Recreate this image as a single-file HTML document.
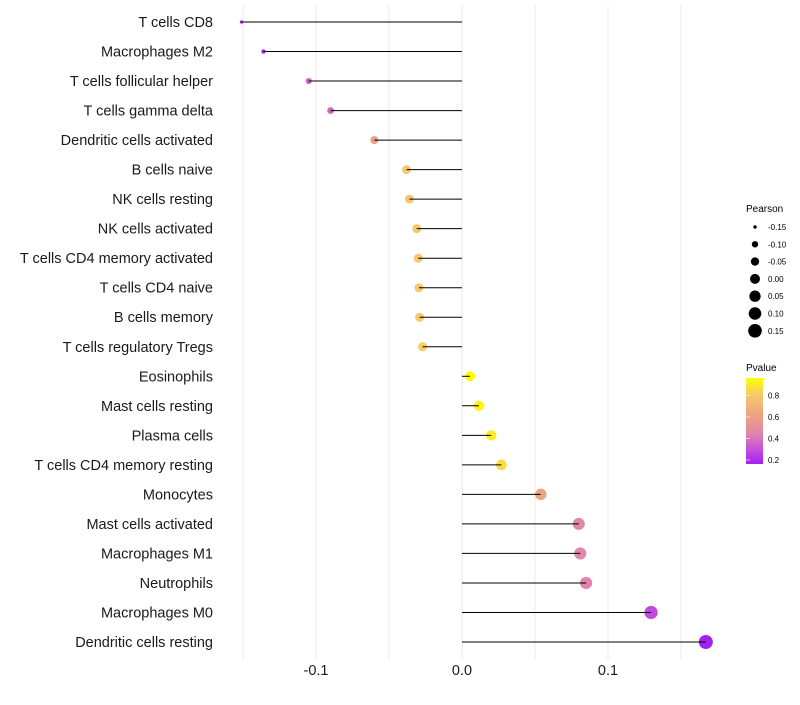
<!DOCTYPE html>
<html><head><meta charset="utf-8"><style>
body{margin:0;background:#fff;font-family:"Liberation Sans",sans-serif;}
svg text{font-family:"Liberation Sans",sans-serif;}
</style></head><body>
<svg id="chart" width="800" height="700" xmlns="http://www.w3.org/2000/svg">
<defs><linearGradient id="pg" x1="0" y1="1" x2="0" y2="0">
<stop offset="0" stop-color="#a020f0"/><stop offset="0.17" stop-color="#c850dc"/><stop offset="0.36" stop-color="#e088aa"/><stop offset="0.55" stop-color="#eca082"/><stop offset="0.8" stop-color="#f6c86e"/><stop offset="1" stop-color="#ffff00"/></linearGradient></defs>
<g id="grid"></g><g id="points"></g><g id="stems"></g><g id="labels"></g><g id="xaxis"></g>
<g id="legend">
<text x="746" y="212" font-size="10">Pearson</text>
<g id="sizeLegend"></g>
<text x="746" y="371" font-size="10">Pvalue</text>
<rect x="746" y="378" width="17" height="86" fill="url(#pg)"/>
<g id="colorLegend"></g>
</g>
</svg>
<script>
const categories=["T cells CD8","Macrophages M2","T cells follicular helper","T cells gamma delta","Dendritic cells activated","B cells naive","NK cells resting","NK cells activated","T cells CD4 memory activated","T cells CD4 naive","B cells memory","T cells regulatory  Tregs ","Eosinophils","Mast cells resting","Plasma cells","T cells CD4 memory resting","Monocytes","Mast cells activated","Macrophages M1","Neutrophils","Macrophages M0","Dendritic cells resting"];
const pearson=[-0.151,-0.136,-0.105,-0.090,-0.060,-0.038,-0.036,-0.031,-0.030,-0.0295,-0.029,-0.027,0.0055,0.0116,0.020,0.027,0.054,0.080,0.081,0.085,0.1295,0.167];
const pvalue=[0.17,0.2,0.35,0.37,0.6,0.78,0.78,0.8,0.8,0.8,0.8,0.82,0.96,0.93,0.9,0.86,0.62,0.45,0.45,0.44,0.28,0.17];
const xTicks=[-0.1,0.0,0.1];
const xTickLabels=["-0.1","0.0","0.1"];
const sizeLegendVals=[-0.15,-0.10,-0.05,0.00,0.05,0.10,0.15];
const colorLegendVals=[0.2,0.4,0.6,0.8];
const NS="http://www.w3.org/2000/svg";
function el(t,a,p){const e=document.createElementNS(NS,t);for(const k in a)e.setAttribute(k,a[k]);document.getElementById(p).appendChild(e);return e;}
const X=v=>462+v*1460;
const Y=i=>22+i*(620/21);
const vmin=-0.155,vmax=0.167;
const R=v=>Math.sqrt(2.25+Math.max(0,(v-vmin)/(vmax-vmin))*(49-2.25));
const stopsP=[0.163,0.3,0.45,0.6,0.8,0.963];
const stopsC=[[160,32,240],[200,80,220],[224,136,170],[236,160,130],[246,200,110],[255,255,0]];
function C(p){p=Math.max(stopsP[0],Math.min(stopsP[5],p));let i=0;while(i<4&&p>stopsP[i+1])i++;
const t=(p-stopsP[i])/(stopsP[i+1]-stopsP[i]);const a=stopsC[i],b=stopsC[i+1];
return `rgb(${a.map((x,k)=>Math.round(x+(b[k]-x)*t)).join(',')})`;}
[-0.15,-0.1,-0.05,0,0.05,0.1,0.15].forEach(v=>{const g=el('line',{x1:X(v),x2:X(v),y1:5,y2:660,stroke:'#ebebeb','stroke-width':1},'grid');
});
categories.forEach((c,i)=>{
const d=el('circle',{cx:X(pearson[i]),cy:Y(i),r:R(pearson[i]),fill:C(pvalue[i])},'points');

const l=el('line',{x1:X(0),x2:X(pearson[i]),y1:Y(i),y2:Y(i),stroke:'#000','stroke-width':1},'stems');

const t=el('text',{x:213,y:Y(i)+5,'text-anchor':'end','font-size':14.5,fill:'#1a1a1a'},'labels');t.textContent=c;

});
xTicks.forEach((v,i)=>{const t=el('text',{x:X(v),y:675,'text-anchor':'middle','font-size':14.5,fill:'#1a1a1a'},'xaxis');t.textContent=xTickLabels[i];
});
sizeLegendVals.forEach((v,i)=>{const y=227+i*17.3;
const d=el('circle',{cx:755,cy:y,r:R(v),fill:'#000'},'sizeLegend');
const t=el('text',{x:768,y:y+3,'font-size':8},'sizeLegend');t.textContent=v.toFixed(2);
});
colorLegendVals.forEach(v=>{const y=378+(0.963-v)/0.8*86;
const k=el('line',{x1:746,x2:750,y1:y,y2:y,stroke:'#fff','stroke-width':0.6},'colorLegend');
const t=el('text',{x:768,y:y+3,'font-size':8},'colorLegend');t.textContent=v.toFixed(1);
});
</script>
</body></html>
